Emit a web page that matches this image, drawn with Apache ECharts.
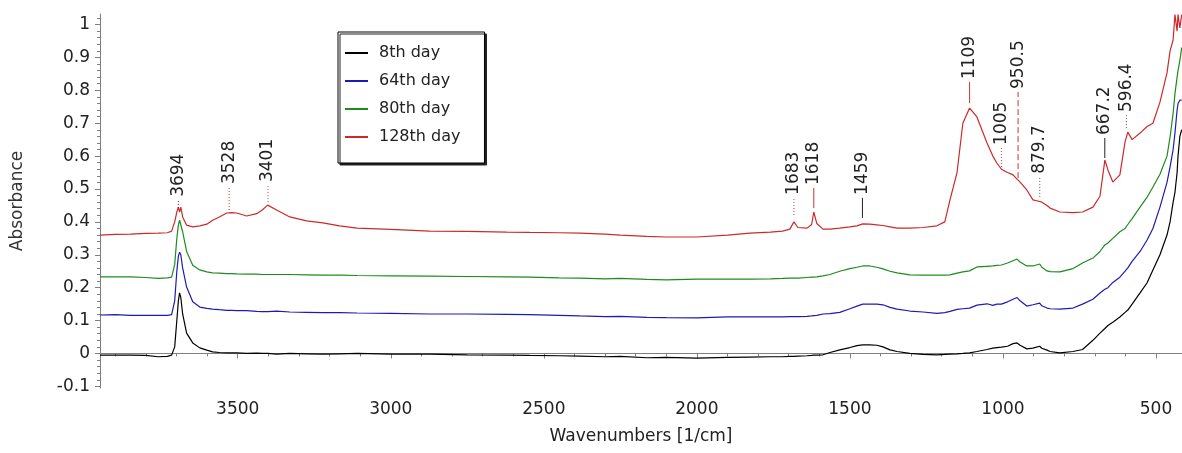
<!DOCTYPE html>
<html>
<head>
<meta charset="utf-8">
<title>FTIR spectra</title>
<script src="https://cdn.jsdelivr.net/npm/echarts@6/dist/echarts.min.js"></script>
<style>
  html, body { margin: 0; padding: 0; background: #fff; }
  #chart { width: 1182px; height: 453px; }
</style>
</head>
<body>
<div id="chart"></div>
<script>
// wavenumbers in 1/cm, high to low
const wavenumbers = [3950, 3900, 3850, 3800, 3760, 3730, 3716, 3706, 3699, 3694, 3690, 3686, 3680, 3667, 3647, 3624, 3601, 3582, 3560, 3536,
  3520, 3503, 3471, 3438, 3420, 3402, 3373, 3330, 3275, 3222, 3167, 3110, 3000, 2873, 2750, 2621, 2546, 2450, 2382, 2300,
  2250, 2163, 2100, 2000, 1900, 1827, 1760, 1720, 1696, 1683, 1670, 1640, 1625, 1618, 1608, 1588, 1565, 1533, 1500, 1477,
  1458, 1435, 1412, 1392, 1369, 1346, 1304, 1261, 1216, 1190, 1173, 1150, 1131, 1109, 1085, 1052, 1033, 1020, 1005, 985,
  967, 954, 944, 922, 902, 880, 873, 856, 846, 814, 771, 740, 706, 683, 667, 657, 641, 618, 601, 592,
  578, 552, 529, 510, 487, 464, 454, 444, 438, 431, 428, 422, 416];

const day8 = [-0.005, -0.005, -0.005, -0.006, -0.010, -0.009, -0.005, 0.020, 0.100, 0.160, 0.184, 0.170, 0.120, 0.062, 0.032, 0.017, 0.010, 0.005, 0.003, 0.002,
  0.002, 0.002, 0.000, 0.001, 0.000, 0.000, -0.002, 0.000, -0.001, -0.002, -0.001, 0.000, -0.002, -0.002, -0.004, -0.005, -0.006, -0.007, -0.008, -0.010,
  -0.009, -0.013, -0.012, -0.014, -0.012, -0.011, -0.010, -0.010, -0.009, -0.009, -0.008, -0.007, -0.006, -0.005, -0.005, -0.004, 0.003, 0.011, 0.018, 0.024,
  0.026, 0.026, 0.025, 0.020, 0.011, 0.006, 0.000, -0.003, -0.004, -0.003, -0.002, -0.001, 0.000, 0.002, 0.006, 0.012, 0.016, 0.018, 0.019, 0.022,
  0.030, 0.032, 0.025, 0.014, 0.016, 0.022, 0.016, 0.010, 0.006, 0.002, 0.006, 0.012, 0.040, 0.062, 0.076, 0.085, 0.095, 0.111, 0.125, 0.132,
  0.150, 0.184, 0.215, 0.254, 0.300, 0.360, 0.400, 0.460, 0.490, 0.550, 0.600, 0.660, 0.680];

const day64 = [0.117, 0.118, 0.116, 0.116, 0.116, 0.116, 0.118, 0.160, 0.250, 0.295, 0.308, 0.300, 0.260, 0.202, 0.157, 0.141, 0.137, 0.135, 0.133, 0.131,
  0.131, 0.130, 0.130, 0.128, 0.127, 0.127, 0.129, 0.126, 0.125, 0.124, 0.124, 0.123, 0.122, 0.120, 0.120, 0.119, 0.118, 0.116, 0.114, 0.112,
  0.113, 0.110, 0.109, 0.108, 0.111, 0.111, 0.111, 0.111, 0.112, 0.112, 0.112, 0.113, 0.114, 0.115, 0.116, 0.120, 0.121, 0.125, 0.136, 0.144,
  0.150, 0.150, 0.150, 0.148, 0.140, 0.135, 0.129, 0.126, 0.122, 0.124, 0.128, 0.134, 0.136, 0.138, 0.147, 0.151, 0.146, 0.150, 0.150, 0.157,
  0.165, 0.170, 0.160, 0.144, 0.148, 0.153, 0.145, 0.138, 0.136, 0.135, 0.138, 0.150, 0.165, 0.184, 0.195, 0.200, 0.216, 0.232, 0.250, 0.260,
  0.280, 0.310, 0.345, 0.380, 0.445, 0.520, 0.567, 0.620, 0.670, 0.740, 0.760, 0.770, 0.770];

const day80 = [0.233, 0.233, 0.233, 0.231, 0.228, 0.230, 0.232, 0.270, 0.350, 0.390, 0.405, 0.408, 0.370, 0.310, 0.268, 0.254, 0.248, 0.245, 0.244, 0.243,
  0.243, 0.242, 0.241, 0.241, 0.240, 0.240, 0.240, 0.240, 0.239, 0.238, 0.238, 0.237, 0.236, 0.235, 0.234, 0.233, 0.232, 0.230, 0.229, 0.227,
  0.228, 0.225, 0.224, 0.226, 0.226, 0.226, 0.227, 0.228, 0.229, 0.229, 0.229, 0.231, 0.232, 0.232, 0.233, 0.236, 0.240, 0.250, 0.258, 0.262,
  0.266, 0.266, 0.262, 0.257, 0.250, 0.245, 0.239, 0.238, 0.238, 0.238, 0.239, 0.244, 0.248, 0.251, 0.263, 0.265, 0.266, 0.268, 0.269, 0.275,
  0.282, 0.287, 0.278, 0.266, 0.266, 0.272, 0.262, 0.251, 0.249, 0.248, 0.258, 0.275, 0.290, 0.310, 0.330, 0.336, 0.350, 0.370, 0.380, 0.392,
  0.410, 0.445, 0.475, 0.506, 0.545, 0.600, 0.658, 0.730, 0.790, 0.840, 0.860, 0.890, 0.930];

const day128 = [0.360, 0.362, 0.363, 0.365, 0.366, 0.367, 0.372, 0.400, 0.430, 0.445, 0.430, 0.445, 0.415, 0.390, 0.385, 0.388, 0.393, 0.405, 0.415, 0.427,
  0.428, 0.427, 0.418, 0.425, 0.436, 0.451, 0.436, 0.415, 0.403, 0.397, 0.388, 0.381, 0.377, 0.372, 0.371, 0.369, 0.368, 0.367, 0.366, 0.363,
  0.360, 0.356, 0.354, 0.354, 0.360, 0.366, 0.369, 0.372, 0.378, 0.400, 0.383, 0.381, 0.392, 0.430, 0.395, 0.378, 0.378, 0.381, 0.385, 0.388,
  0.394, 0.393, 0.391, 0.389, 0.385, 0.381, 0.381, 0.383, 0.388, 0.400, 0.467, 0.550, 0.700, 0.746, 0.719, 0.640, 0.600, 0.579, 0.560, 0.550,
  0.543, 0.530, 0.521, 0.497, 0.467, 0.462, 0.460, 0.450, 0.442, 0.430, 0.428, 0.430, 0.445, 0.478, 0.588, 0.558, 0.521, 0.543, 0.643, 0.673,
  0.650, 0.670, 0.690, 0.700, 0.764, 0.853, 0.920, 0.953, 1.030, 0.980, 1.030, 0.990, 1.030];

const seriesNames = ['8th day', '64th day', '80th day', '128th day'];
const seriesValues = [day8, day64, day80, day128];
const seriesColors = ['#000000', '#1c1cb0', '#1f8a1f', '#cc2a2a'];

const xTicks = [3500, 3000, 2500, 2000, 1500, 1000, 500];
const yTicks = [-0.1, 0, 0.1, 0.2, 0.3, 0.4, 0.5, 0.6, 0.7, 0.8, 0.9, 1];

// peak marks: wavenumber, label, leader line from / to (absorbance)
const peakWavenumbers = [3694, 3528, 3401, 1683, 1618, 1459, 1109, 1005, 950.5, 879.7, 667.2, 596.4];
const peakLabels = ['3694', '3528', '3401', '1683', '1618', '1459', '1109', '1005', '950.5', '879.7', '667.2', '596.4'];
const peakFrom = [0.442, 0.436, 0.460, 0.421, 0.442, 0.412, 0.761, 0.567, 0.533, 0.476, 0.594, 0.685];
const peakTo = [0.467, 0.506, 0.512, 0.473, 0.503, 0.473, 0.825, 0.625, 0.795, 0.537, 0.655, 0.725];
const peakDash = ['dot', 'dot', 'dot', 'dot', 'solid', 'solid', 'solid', 'dot', 'dash', 'dot', 'solid', 'dot'];
const peakColor = ['#333', '#c33', '#c33', '#c33', '#c33', '#222', '#c33', '#c33', '#c33', '#555', '#222', '#555'];

let xMinor = [];
for (let w = 500; w <= 3900; w += 100) if (w % 500 !== 0) xMinor.push(w);
let yMinor = [];
for (let k = -5; k <= 51; k++) if (k % 5 !== 0) yMinor.push(+(k * 0.02).toFixed(2));

const axisGray = '#808080';
const font = '"DejaVu Sans", "Liberation Sans", sans-serif';

let chart = echarts.init(document.getElementById('chart'));

let lineSeries = seriesNames.map((name, k) => ({
  name: name,
  type: 'line',
  xAxisIndex: 0,
  yAxisIndex: 0,
  data: wavenumbers.map((w, i) => [w, seriesValues[k][i]]),
  showSymbol: false,
  symbol: 'none',
  lineStyle: { width: 1.2, color: seriesColors[k] },
  itemStyle: { color: seriesColors[k] },
  z: 3
}));

let peakSeries = {
  type: 'custom',
  name: 'peaks',
  xAxisIndex: 0,
  yAxisIndex: 0,
  silent: true,
  clip: false,
  z: 5,
  data: peakWavenumbers.map((w, i) => [w, peakFrom[i], peakTo[i]]),
  renderItem: function (params, api) {
    let i = params.dataIndex;
    let p0 = api.coord([api.value(0), api.value(1)]);
    let p1 = api.coord([api.value(0), api.value(2)]);
    let dash = peakDash[i] === 'dot' ? [1, 2] : (peakDash[i] === 'dash' ? [6, 3] : null);
    return {
      type: 'group',
      children: [
        {
          type: 'line',
          shape: { x1: p0[0], y1: p0[1], x2: p1[0], y2: p1[1] },
          style: { stroke: peakColor[i], lineWidth: 1, lineDash: dash }
        },
        {
          type: 'text',
          x: p1[0],
          y: p1[1] - 3,
          rotation: Math.PI / 2,
          style: {
            text: peakLabels[i],
            fill: '#222',
            font: '17px ' + font,
            align: 'left',
            verticalAlign: 'middle'
          }
        }
      ]
    };
  }
};

let option = {
  animation: false,
  backgroundColor: '#fff',
  grid: { left: 100, right: 0, top: 14, bottom: 65 },
  legend: {
    data: seriesNames,
    orient: 'vertical',
    left: 338,
    top: 32,
    icon: 'rect',
    itemWidth: 23,
    itemHeight: 2,
    itemGap: 8,
    padding: [11, 24, 16, 7],
    backgroundColor: '#fff',
    borderColor: '#000',
    borderWidth: 1,
    shadowColor: '#222',
    shadowBlur: 0,
    shadowOffsetX: 2,
    shadowOffsetY: 2,
    textStyle: { fontFamily: font, fontSize: 16, color: '#222', lineHeight: 20, padding: [0, 0, 0, 6] }
  },
  xAxis: [
    {
      type: 'value',
      inverse: true,
      min: 415,
      max: 3950,
      name: 'Wavenumbers [1/cm]',
      nameLocation: 'middle',
      nameGap: 40,
      nameTextStyle: { fontFamily: font, fontSize: 17, color: '#222' },
      axisLine: { show: true, lineStyle: { color: axisGray, width: 1 } },
      axisTick: { show: true, length: 5, customValues: xTicks, lineStyle: { color: axisGray } },
      axisLabel: {
        customValues: xTicks,
        formatter: function (v) { return String(v); },
        margin: 13,
        fontFamily: font,
        fontSize: 17,
        color: '#222'
      },
      splitLine: { show: false }
    },
    {
      type: 'value',
      inverse: true,
      min: 415,
      max: 3950,
      position: 'bottom',
      offset: 0,
      axisLine: { show: false },
      axisTick: { show: true, length: 3, customValues: xMinor, lineStyle: { color: axisGray } },
      axisLabel: { show: false },
      splitLine: { show: false }
    }
  ],
  yAxis: [
    {
      type: 'value',
      min: -0.105,
      max: 1.032,
      name: 'Absorbance',
      nameLocation: 'middle',
      nameGap: 74,
      nameRotate: 90,
      nameTextStyle: { fontFamily: font, fontSize: 17, color: '#333' },
      axisLine: { show: true, lineStyle: { color: axisGray, width: 1 } },
      axisTick: { show: true, length: 5, customValues: yTicks, lineStyle: { color: axisGray } },
      axisLabel: {
        customValues: yTicks,
        formatter: function (v) { return String(v); },
        margin: 10,
        fontFamily: font,
        fontSize: 17,
        color: '#222'
      },
      splitLine: { show: false }
    },
    {
      type: 'value',
      min: -0.105,
      max: 1.032,
      position: 'left',
      offset: 0,
      axisLine: { show: false },
      axisTick: { show: true, length: 3, customValues: yMinor, lineStyle: { color: axisGray } },
      axisLabel: { show: false },
      splitLine: { show: false }
    }
  ],
  series: lineSeries.concat([peakSeries])
};

chart.setOption(option);
</script>
</body>
</html>
